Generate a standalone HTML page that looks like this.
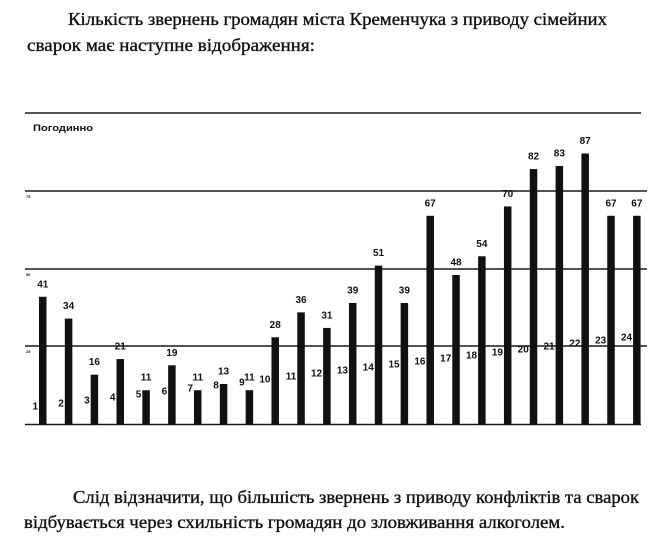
<!DOCTYPE html>
<html><head><meta charset="utf-8">
<style>
html,body{margin:0;padding:0;background:#fff;}
svg{display:block;}
</style></head>
<body>
<svg width="664" height="540" viewBox="0 0 664 540" xmlns="http://www.w3.org/2000/svg">
<rect width="664" height="540" fill="#fff"/>
<g font-family="'Liberation Serif','DejaVu Serif',serif" font-size="18" fill="#111" stroke="#111" stroke-width="0.35">
<text x="68" y="25" textLength="539" lengthAdjust="spacingAndGlyphs">Кількість звернень громадян міста Кременчука з приводу сімейних</text>
<text x="27" y="51" textLength="288" lengthAdjust="spacingAndGlyphs">сварок  має наступне відображення:</text>
<text x="73" y="503" textLength="566" lengthAdjust="spacingAndGlyphs">Слід відзначити, що більшість звернень з приводу конфліктів та сварок</text>
<text x="24" y="528" textLength="541" lengthAdjust="spacingAndGlyphs">відбувається через схильність громадян до зловживання алкоголем.</text>
</g>
<g stroke="#1a1a1a" stroke-width="1.6">
<line x1="25" y1="113" x2="641" y2="113"/>
<line x1="25" y1="191" x2="647" y2="191"/>
<line x1="25" y1="269" x2="647" y2="269"/>
<line x1="25" y1="346" x2="647" y2="346"/>
<line x1="25" y1="424.5" x2="641" y2="424.5"/>
</g>
<g font-family="'Liberation Sans',Arial,sans-serif" font-weight="bold" fill="#111">
<text x="33" y="131" font-size="9.5" textLength="60" lengthAdjust="spacingAndGlyphs">Погодинно</text>
<text x="26" y="198" font-size="4">75</text>
<text x="26" y="276" font-size="4">50</text>
<text x="26" y="353" font-size="4">25</text>
</g>
<g fill="#111">
<rect x="39.00" y="296.78" width="7.5" height="127.72"/>
<rect x="64.83" y="318.59" width="7.5" height="105.91"/>
<rect x="90.66" y="374.66" width="7.5" height="49.84"/>
<rect x="116.49" y="359.08" width="7.5" height="65.42"/>
<rect x="142.32" y="390.23" width="7.5" height="34.27"/>
<rect x="168.15" y="365.31" width="7.5" height="59.19"/>
<rect x="193.98" y="390.23" width="7.5" height="34.27"/>
<rect x="219.81" y="384.00" width="7.5" height="40.50"/>
<rect x="245.64" y="390.23" width="7.5" height="34.27"/>
<rect x="271.47" y="337.28" width="7.5" height="87.22"/>
<rect x="297.30" y="312.36" width="7.5" height="112.14"/>
<rect x="323.13" y="327.93" width="7.5" height="96.57"/>
<rect x="348.96" y="303.01" width="7.5" height="121.49"/>
<rect x="374.79" y="265.63" width="7.5" height="158.87"/>
<rect x="400.62" y="303.01" width="7.5" height="121.49"/>
<rect x="426.45" y="215.79" width="7.5" height="208.71"/>
<rect x="452.28" y="274.98" width="7.5" height="149.52"/>
<rect x="478.11" y="256.29" width="7.5" height="168.21"/>
<rect x="503.94" y="206.45" width="7.5" height="218.05"/>
<rect x="529.77" y="169.07" width="7.5" height="255.43"/>
<rect x="555.60" y="165.95" width="7.5" height="258.55"/>
<rect x="581.43" y="153.49" width="7.5" height="271.01"/>
<rect x="607.26" y="215.79" width="7.5" height="208.71"/>
<rect x="633.09" y="215.79" width="7.5" height="208.71"/>
</g>
<g fill="#111" font-family="'Liberation Sans',Arial,sans-serif" font-weight="bold" font-size="10" text-anchor="middle">
<text x="42.75" y="287.28">41</text>
<text x="68.58" y="309.09">34</text>
<text x="94.41" y="365.16">16</text>
<text x="120.24" y="349.58">21</text>
<text x="146.07" y="380.73">11</text>
<text x="171.90" y="355.81">19</text>
<text x="197.73" y="380.73">11</text>
<text x="223.56" y="374.50">13</text>
<text x="249.39" y="380.73">11</text>
<text x="275.22" y="327.78">28</text>
<text x="301.05" y="302.86">36</text>
<text x="326.88" y="318.43">31</text>
<text x="352.71" y="293.51">39</text>
<text x="378.54" y="256.13">51</text>
<text x="404.37" y="293.51">39</text>
<text x="430.20" y="206.29">67</text>
<text x="456.03" y="265.48">48</text>
<text x="481.86" y="246.79">54</text>
<text x="507.69" y="196.95">70</text>
<text x="533.52" y="159.57">82</text>
<text x="559.35" y="156.45">83</text>
<text x="585.18" y="143.99">87</text>
<text x="611.01" y="206.29">67</text>
<text x="636.84" y="206.29">67</text>
</g>
<g fill="#111" font-family="'Liberation Sans',Arial,sans-serif" font-weight="bold" font-size="10" text-anchor="end">
<text x="38.00" y="409.5">1</text>
<text x="63.83" y="406.5">2</text>
<text x="89.66" y="403.5">3</text>
<text x="115.49" y="400.5">4</text>
<text x="141.32" y="397.5">5</text>
<text x="167.15" y="394.5">6</text>
<text x="192.98" y="391.5">7</text>
<text x="218.81" y="388.5">8</text>
<text x="244.64" y="385.5">9</text>
<text x="270.47" y="382.5">10</text>
<text x="296.30" y="379.5">11</text>
<text x="322.13" y="376.5">12</text>
<text x="347.96" y="373.5">13</text>
<text x="373.79" y="370.5">14</text>
<text x="399.62" y="367.5">15</text>
<text x="425.45" y="364.5">16</text>
<text x="451.28" y="361.5">17</text>
<text x="477.11" y="358.5">18</text>
<text x="502.94" y="355.5">19</text>
<text x="528.77" y="352.5">20</text>
<text x="554.60" y="349.5">21</text>
<text x="580.43" y="346.5">22</text>
<text x="606.26" y="343.5">23</text>
<text x="632.09" y="340.5">24</text>
</g>
</svg>
</body></html>
